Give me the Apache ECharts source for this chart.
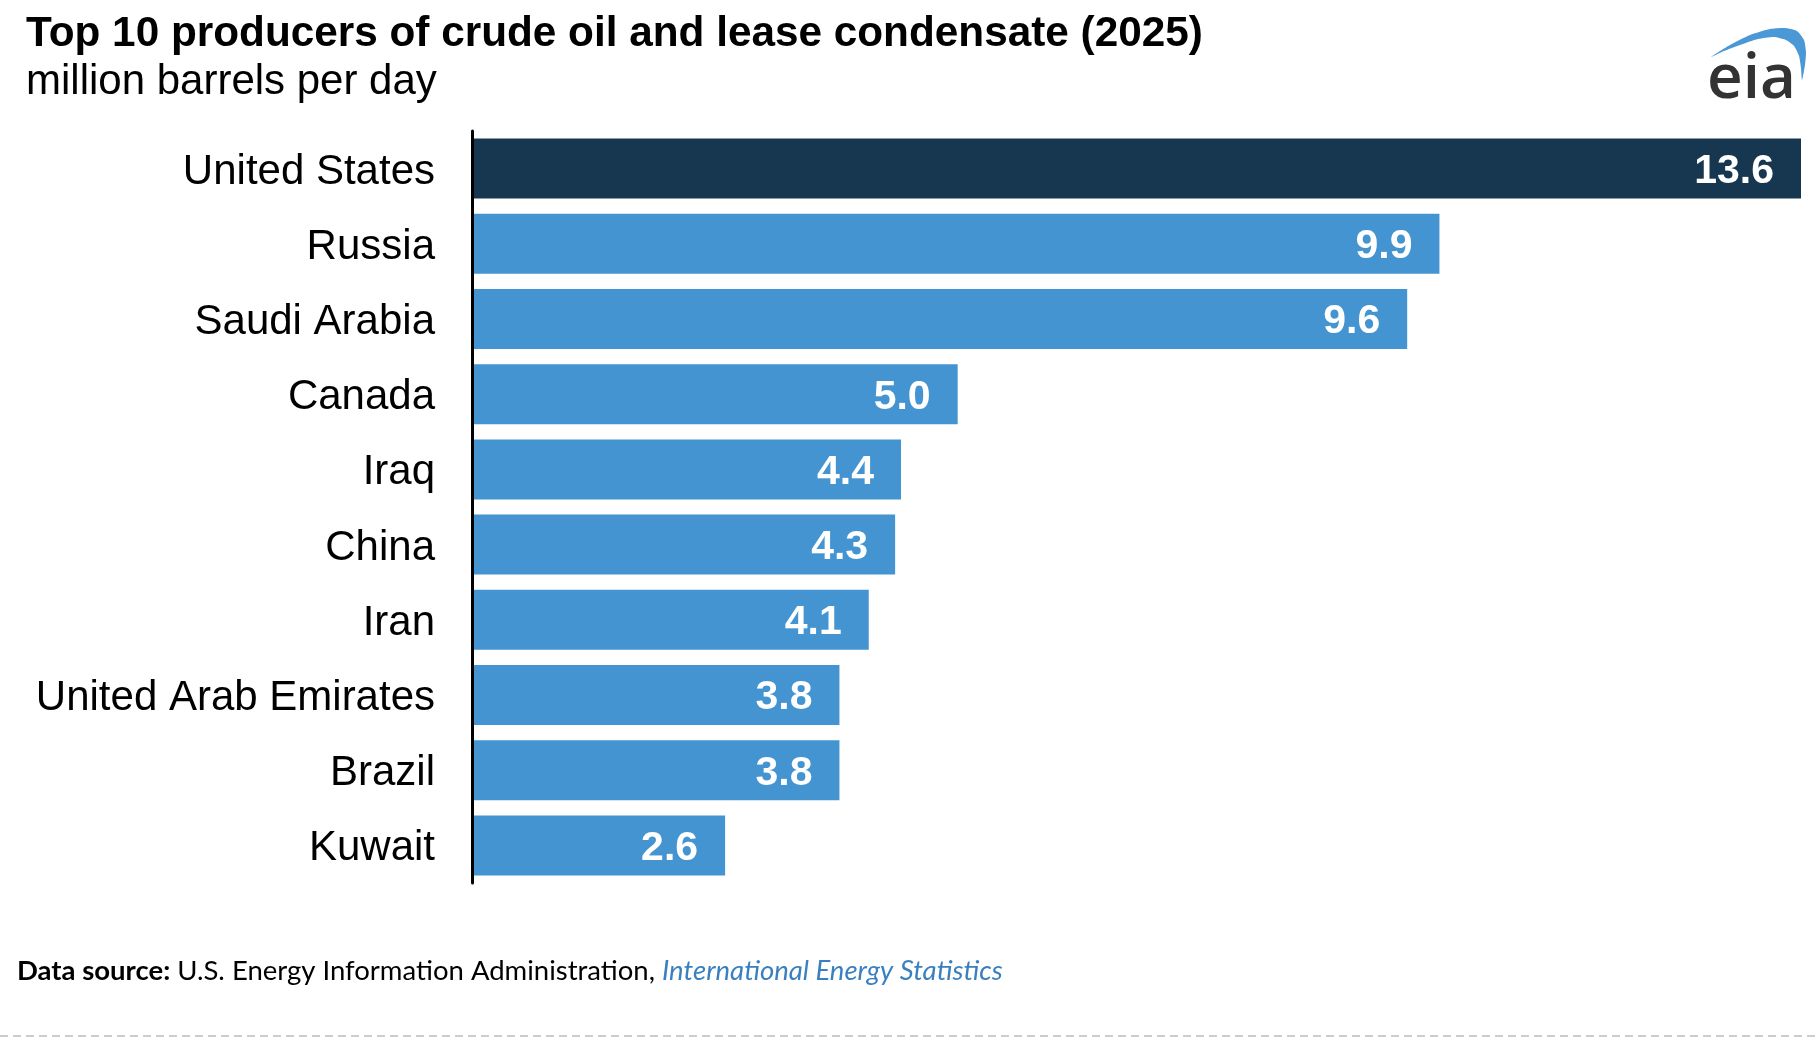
<!DOCTYPE html>
<html>
<head>
<meta charset="utf-8">
<script src="https://cdn.jsdelivr.net/npm/echarts@6/dist/echarts.min.js"></script>
<style>
html,body{margin:0;padding:0;background:#fff;}
#chart{width:1816px;height:1038px;}
</style>
</head>
<body>
<div id="chart"></div>
<script>
const categories = ['United States','Russia','Saudi Arabia','Canada','Iraq','China','Iran','United Arab Emirates','Brazil','Kuwait'];
const production = [13.6, 9.9, 9.57, 4.97, 4.39, 4.33, 4.06, 3.76, 3.76, 2.59];
const highlightCountry = 'United States';
const titleText = 'Top 10 producers of crude oil and lease condensate (2025)';
const unitText = 'million barrels per day';
const sourceText = ['Data source:', 'U.S. Energy Information Administration,', 'International Energy Statistics'];

const FONT = '"Liberation Sans", Arial, Helvetica, sans-serif';
const chart = echarts.init(document.getElementById('chart'), null, {renderer:'canvas'});

const swoosh = [[1711,57],[1730,45],[1750,35],[1770,29],[1785,28],[1797,31],[1804,40],[1806,52],[1805,65],[1802,80],
                [1801,68],[1799,56],[1794,46],[1786,40],[1774,37],[1758,39],[1740,45],[1724,51]];

chart.setOption({
  backgroundColor: '#ffffff',
  animation: false,
  title: [
    {text: titleText, left: 21, top: 8,
     textStyle: {fontFamily: FONT, fontSize: 42.3, fontWeight: 'bold', color: '#000', lineHeight: 42}},
    {text: unitText, left: 21, top: 56,
     textStyle: {fontFamily: FONT, fontSize: 42, fontWeight: 'normal', color: '#000', lineHeight: 42}},
    {text: '{b|' + sourceText[0] + '} {n|' + sourceText[1] + '} {l|' + sourceText[2] + '}',
     left: 12, top: 952,
     textStyle: {fontWeight: 'normal', fontSize: 27.5, fontFamily: 'Lato, sans-serif', rich: {
       b: {fontFamily: 'Lato, sans-serif', fontSize: 27.5, fontWeight: 'bold', color: '#000'},
       n: {fontFamily: 'Lato, sans-serif', fontSize: 27.5, fontWeight: 'normal', color: '#000'},
       l: {fontFamily: 'Lato, sans-serif', fontSize: 27.5, fontWeight: 'normal', fontStyle: 'italic', color: '#3a7fbf'}
     }}}
  ],
  grid: {left: 472, right: 15, top: 131, bottom: 155, containLabel: false},
  xAxis: {type: 'value', min: 0, max: 13.6, show: false},
  yAxis: {
    type: 'category', data: categories, inverse: true, z: 5,
    axisLine: {show: true, lineStyle: {color: '#000', width: 3}},
    axisTick: {show: false},
    axisLabel: {
      margin: 37,
      formatter: v => '{c|' + v + '}',
      rich: {c: {fontFamily: FONT, fontSize: 42, color: '#000', padding: [7, 0, 0, 0]}}
    }
  },
  series: [{
    type: 'bar',
    barWidth: 60,
    data: production.map((v, i) => ({
      value: v,
      itemStyle: {color: categories[i] === highlightCountry ? '#16374f' : '#4394d0'}
    })),
    label: {
      show: true, position: 'insideRight', distance: 27, offset: [0, 3],
      fontFamily: FONT, fontSize: 41, fontWeight: 'bold', color: '#fff',
      formatter: p => p.value.toFixed(1)
    }
  }],
  graphic: [
    {type: 'line', shape: {x1: 0, y1: 1036, x2: 1816, y2: 1036},
     style: {stroke: '#cccccc', lineWidth: 2, lineDash: [8, 5]}},
    {type: 'polygon', shape: {points: swoosh, smooth: 0.2}, style: {fill: '#4a98d6'}},
    {type: 'text', x: 1707, y: 80, style: {text: 'eia', font: '600 62px "Open Sans", sans-serif', fill: '#333333', verticalAlign: 'middle'}}
  ]
});
</script>
</body>
</html>
